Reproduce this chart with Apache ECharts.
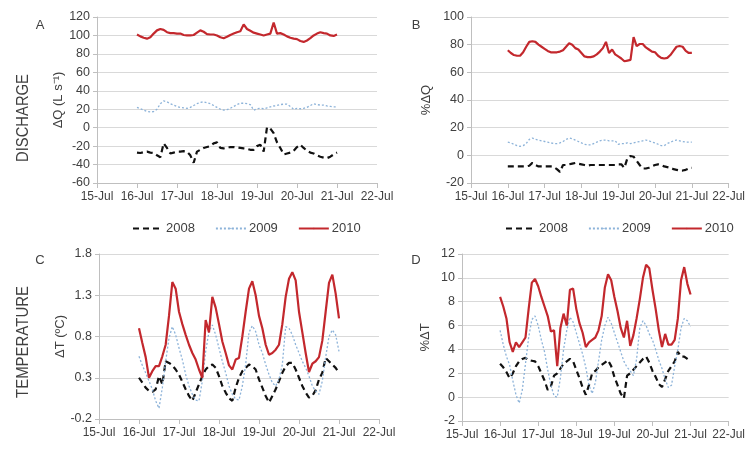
<!DOCTYPE html>
<html>
<head>
<meta charset="utf-8">
<script src="https://cdn.jsdelivr.net/npm/echarts@6/dist/echarts.min.js"></script>
<style>
    html, body {margin: 0; padding: 0; background: #fff;}
    #main {width: 748px; height: 457px;}
</style>
</head>
<body>
<div id="main"></div>
<script>
// hours since 16-Jul 00:00
const hours = [0, 2, 4, 6, 8, 10, 12, 14, 16, 18, 20, 22, 24, 26, 28, 30, 32, 34, 36, 38,
    40, 42, 44, 46, 48, 50, 52, 54, 56, 58, 60, 62, 64, 66, 68, 70, 72, 74, 76, 78,
    80, 82, 84, 86, 88, 90, 92, 94, 96, 98, 100, 102, 104, 106, 108, 110, 112, 114, 116, 118, 120];
const day_labels = ['15-Jul', '16-Jul', '17-Jul', '18-Jul', '19-Jul', '20-Jul', '21-Jul', '22-Jul'];
const years = ['2008', '2009', '2010'];

// A: delta Q (L s-1)
const dq_2008 = [-27, -27.5, -26.5, -26, -27, -27.5, -30, -32, -17, -22,
    -28, -27, -26, -26, -25.5, -26, -30, -38, -26, -24,
    -22, -21, -20, -17, -16, -22, -22.5, -22, -21, -21,
    -21.5, -22, -22.5, -23, -24, -24, -20, -18.5, -26, 0.5,
    -1, -6, -16, -22, -29, -28, -27, -25, -21, -18.5,
    -22, -25, -27, -28, -30, -31.5, -32.5, -33, -31.5, -29, -27];
const dq_2009 = [22, 20.5, 19, 17.5, 17, 17.5, 20, 26, 29, 28,
    26, 24.5, 23, 22, 21.5, 21, 22, 24, 26, 27.5,
    28, 27, 26, 24, 22, 20, 19, 19.5, 21, 23,
    25, 26.5, 26.5, 26, 25, 19, 20.5, 21, 20.5, 21.5,
    22.5, 23.5, 24, 25, 25.5, 25.5, 23, 20, 21, 20.5,
    21, 22, 24, 26, 25, 24.5, 24.5, 23.5, 23, 22.5, 22.5];
const dq_2010 = [101, 99, 97.5, 96.5, 98, 102, 105.5, 107, 106, 103.5,
    102.5, 102.5, 102, 102, 100.5, 100, 100, 100.5, 103, 105.5,
    104, 101.5, 101, 101, 100, 98, 97, 98.5, 100.5, 102,
    103.5, 104.5, 112, 107, 105, 103, 102, 101, 100, 101,
    102, 114, 102, 102.5, 101, 99, 97.5, 96.5, 96, 94,
    93, 94.5, 97, 100, 102, 103.5, 102.5, 102, 100, 99.5, 101];

// B: % delta Q
const pq_2008 = [-8, -8, -8, -8, -8, -8, -8, -7.5, -5.5, -7,
    -8, -8, -8, -8, -8, -8.5, -10, -12, -7, -7,
    -6.5, -6, -5.5, -6, -6.5, -7, -7.5, -7, -7, -7,
    -7, -7, -7, -7, -7, -7, -6.5, -6.5, -9, -2,
    -0.5, -1, -4, -7, -9.5, -9.5, -9, -8, -7, -6.5,
    -7, -8, -8.5, -9, -10, -10.5, -11, -11, -10.5, -9.5, -9];
const pq_2009 = [9.5, 9, 8, 7, 6.5, 7, 8.5, 11.5, 12.5, 11.5,
    11, 10.5, 10, 9.5, 9, 8.5, 8.5, 9, 10, 11.5,
    12.5, 12, 11, 10, 9, 8, 7.5, 7.5, 8.5, 9.5,
    10.5, 11, 11, 10.5, 10.5, 10.5, 8, 8.5, 8.5, 9,
    8.5, 9, 9.5, 10, 10.5, 11, 10.5, 9.5, 9, 8,
    7, 7, 8.5, 9.5, 10.5, 11, 10.5, 10, 9.5, 9.5, 9.5];
const pq_2010 = [76, 74, 72.5, 72, 72, 74.5, 78.5, 82, 82.5, 82,
    80, 78.5, 77, 75.5, 74.5, 74.5, 74.5, 75, 76, 78.5,
    81, 80, 77.5, 76.5, 74, 71.5, 71, 71, 71.5, 73,
    75, 77.5, 82, 74, 76.5, 73, 71.5, 70, 68, 68.5,
    69, 85.5, 79, 80.5, 80.5, 78, 76.5, 75, 74.5, 72,
    70.5, 70, 70.5, 72.5, 75.5, 78.5, 79, 78.5, 75.5, 74, 74];

// C: delta T (C)
const dt_2008 = [0.3, 0.24, 0.18, 0.14, 0.13, 0.16, 0.32, 0.22, 0.5, 0.48,
    0.45, 0.4, 0.34, 0.25, 0.16, 0.08, 0.02, 0.12, 0.22, 0.32,
    0.4, 0.44, 0.46, 0.42, 0.32, 0.2, 0.12, 0.05, 0.02, 0.18,
    0.3, 0.38, 0.42, 0.46, 0.44, 0.4, 0.28, 0.18, 0.08, 0.0,
    0.08, 0.16, 0.26, 0.36, 0.44, 0.48, 0.48, 0.4, 0.3, 0.2,
    0.12, 0.06, 0.08, 0.15, 0.28, 0.36, 0.54, 0.5, 0.46, 0.42, 0.36];
const dt_2009 = [0.56, 0.45, 0.36, 0.26, 0.16, 0.02, -0.07, 0.18, 0.5, 0.78,
    0.92, 0.82, 0.66, 0.52, 0.34, 0.2, 0.1, 0.03, 0.02, 0.26,
    0.62, 0.86, 0.94, 0.82, 0.66, 0.5, 0.36, 0.2, 0.1, 0.04,
    0.03, 0.2, 0.46, 0.85, 0.93, 0.86, 0.7, 0.6, 0.46, 0.34,
    0.24, 0.2, 0.28, 0.46, 0.92, 0.9, 0.82, 0.7, 0.6, 0.5,
    0.42, 0.32, 0.2, 0.14, 0.1, 0.26, 0.55, 0.8, 0.88, 0.82, 0.62];
const dt_2010 = [0.9, 0.72, 0.55, 0.3, 0.38, 0.44, 0.44, 0.56, 0.7, 1.05,
    1.46, 1.38, 1.1, 0.95, 0.82, 0.7, 0.6, 0.52, 0.4, 0.3,
    1.0, 0.85, 1.28, 1.15, 0.95, 0.74, 0.6, 0.45, 0.4, 0.52,
    0.54, 0.8, 1.1, 1.38, 1.47, 1.3, 1.05, 0.9, 0.7, 0.58,
    0.6, 0.64, 0.7, 0.95, 1.28, 1.5, 1.58, 1.48, 1.1, 0.85,
    0.6, 0.37, 0.47, 0.5, 0.55, 0.75, 1.1, 1.45, 1.55, 1.32, 1.02];

// D: % delta T
const pt_2008 = [2.8, 2.5, 2.1, 1.6, 2.0, 2.6, 3.0, 3.2, 3.3, 3.1,
    3.05, 3.0, 2.6, 2.0, 1.4, 0.6, 0.9, 1.8, 2.0, 2.4,
    2.8, 3.0, 3.2, 3.0, 2.3, 1.6, 0.8, 0.2, 1.0, 2.0,
    2.2, 2.5, 2.7, 2.9, 3.1, 2.6, 1.7, 1.0, 0.3, -0.1,
    1.8, 2.0, 2.3, 2.6, 2.9, 3.2, 3.4, 2.9, 2.2, 1.7,
    1.1, 0.85, 1.5, 2.2, 2.6, 3.0, 3.8, 3.4, 3.4, 3.2, 3.0];
const pt_2009 = [5.6, 4.4, 3.4, 2.7, 1.4, 0.2, -0.5, 0.6, 2.8, 5.0,
    6.5, 6.8, 6.0, 4.8, 3.8, 2.3, 1.0, 0.1, 0.0, 1.6,
    4.0, 5.6, 6.7, 6.3, 5.4, 4.5, 3.6, 2.5, 1.0, 0.3,
    1.2, 3.0, 4.8, 6.0, 6.7, 6.2, 5.4, 4.6, 3.8, 3.0,
    2.5, 2.2, 1.8, 3.2, 5.8, 6.4, 6.0, 5.3, 4.8, 4.0,
    3.1, 2.4, 1.5, 0.8, 1.0, 2.6, 4.0, 5.8, 6.6, 6.4, 5.9];
const pt_2010 = [8.4, 7.6, 6.6, 4.6, 3.8, 4.6, 4.2, 4.6, 5.0, 7.4,
    9.6, 9.9, 9.3, 8.4, 7.6, 6.8, 5.5, 5.6, 2.6, 5.8,
    7.0, 6.0, 9.0, 9.1, 7.4, 6.2, 5.4, 4.2, 4.6, 4.8,
    5.0, 5.6, 6.8, 9.2, 10.3, 9.8, 8.4, 7.2, 5.8, 5.0,
    6.4, 4.3, 5.2, 6.6, 8.2, 10.0, 11.1, 10.8, 9.0, 7.4,
    5.6, 4.2, 5.3, 4.4, 4.4, 4.8, 6.6, 9.8, 10.9, 9.5, 8.6];

const text_color = '#404040';
const axis_color = '#bfbfbf';
const font = 'Liberation Sans, Arial, sans-serif';
const line_styles = {
    '2008': {color: '#111111', width: 2.2, type: [6, 4]},
    '2009': {color: '#8db3d9', width: 1.3, type: [2, 2]},
    '2010': {color: '#c3282d', width: 2.2}
};
// legend icons drawn as small filled bars, 30 x 2
const legend_icons = {
    '2008': 'path://M0,0h7v2h-7z M11,0h7v2h-7z M22,0h8v2h-8z',
    '2009': 'path://M0,0h1.2v2h-1.2z M3,0h1.2v2h-1.2z M6,0h1.2v2h-1.2z M9,0h1.2v2h-1.2z M12,0h1.2v2h-1.2z M15,0h1.2v2h-1.2z M18,0h1.2v2h-1.2z M21,0h1.2v2h-1.2z M24,0h1.2v2h-1.2z M27,0h1.2v2h-1.2z M28.8,0h1.2v2h-1.2z',
    '2010': 'path://M0,0h30v2h-30z'
};

function pairs(vals) {
    return hours.map((h, i) => [h, vals[i]]);
}

function make_x(idx) {
    return {
        type: 'value', gridIndex: idx, min: -24, max: 144, interval: 24,
        axisLine: {show: true, onZero: false, lineStyle: {color: axis_color}},
        axisTick: {show: true, length: 5, lineStyle: {color: axis_color}},
        splitLine: {show: false},
        axisLabel: {
            color: text_color, fontSize: 12, fontFamily: font, margin: 8,
            formatter: v => day_labels[Math.round((v + 24) / 24)]
        }
    };
}

function make_y(idx, name, min, max, interval, gap, fmt) {
    return {
        type: 'value', gridIndex: idx, min: min, max: max, interval: interval,
        name: name, nameLocation: 'middle', nameGap: gap,
        nameTextStyle: {color: text_color, fontSize: 13, fontFamily: font},
        axisLine: {show: true, onZero: false, lineStyle: {color: axis_color}},
        axisTick: {show: true, length: 4, lineStyle: {color: axis_color}},
        splitLine: {show: true, lineStyle: {color: '#d9d9d9'}},
        axisLabel: {color: text_color, fontSize: 12.5, fontFamily: font, margin: 7, formatter: fmt}
    };
}

function make_series(idx, sets) {
    return years.map((y, k) => ({
        name: y, type: 'line', xAxisIndex: idx, yAxisIndex: idx,
        symbol: 'none', showSymbol: false, animation: false,
        legendIcon: legend_icons[y],
        lineStyle: line_styles[y], itemStyle: {color: line_styles[y].color},
        data: pairs(sets[k])
    }));
}

function make_legend(left, top) {
    return {
        left: left, top: top, width: 260, padding: 0,
        itemWidth: 30, itemHeight: 2, itemGap: 20,
        data: years, textStyle: {color: text_color, fontSize: 13, fontFamily: font, padding: [0, 0, 0, -2]}
    };
}

function panel_text(x, y, txt, size, rot, sx) {
    return {
        type: 'text', x: x, y: y, rotation: rot || 0, scaleX: sx || 1,
        style: {text: txt, fill: text_color, fontSize: size, fontFamily: font, align: 'center', verticalAlign: 'middle'}
    };
}

const chart = echarts.init(document.getElementById('main'), null, {renderer: 'canvas'});
chart.setOption({
    backgroundColor: '#ffffff',
    animation: false,
    grid: [
        {left: 97, top: 17, width: 280, height: 166},
        {left: 471, top: 17, width: 280, height: 166},
        {left: 99, top: 254, width: 280, height: 165},
        {left: 462, top: 254, width: 290, height: 167}
    ],
    xAxis: [make_x(0), make_x(1), make_x(2), make_x(3)],
    yAxis: [
        make_y(0, 'ΔQ (L s⁻¹)', -60, 120, 20, 32),
        make_y(1, '%ΔQ', -20, 100, 20, 38),
        make_y(2, 'ΔT (ºC)', -0.2, 1.8, 0.5, 32, v => v.toFixed(1)),
        make_y(3, '%ΔT', -2, 12, 2, 30)
    ],
    legend: [make_legend(132, 222), make_legend(505, 222), make_legend(132, 458), make_legend(505, 458)],
    graphic: [
        panel_text(23, 118, 'DISCHARGE', 17, Math.PI / 2, 0.87),
        panel_text(23, 342, 'TEMPERATURE', 17, Math.PI / 2, 0.88),
        panel_text(40, 25, 'A', 13),
        panel_text(416, 25, 'B', 13),
        panel_text(40, 260, 'C', 13),
        panel_text(416, 260, 'D', 13)
    ],
    series: [].concat(
        make_series(0, [dq_2008, dq_2009, dq_2010]),
        make_series(1, [pq_2008, pq_2009, pq_2010]),
        make_series(2, [dt_2008, dt_2009, dt_2010]),
        make_series(3, [pt_2008, pt_2009, pt_2010])
    )
});
</script>
</body>
</html>
